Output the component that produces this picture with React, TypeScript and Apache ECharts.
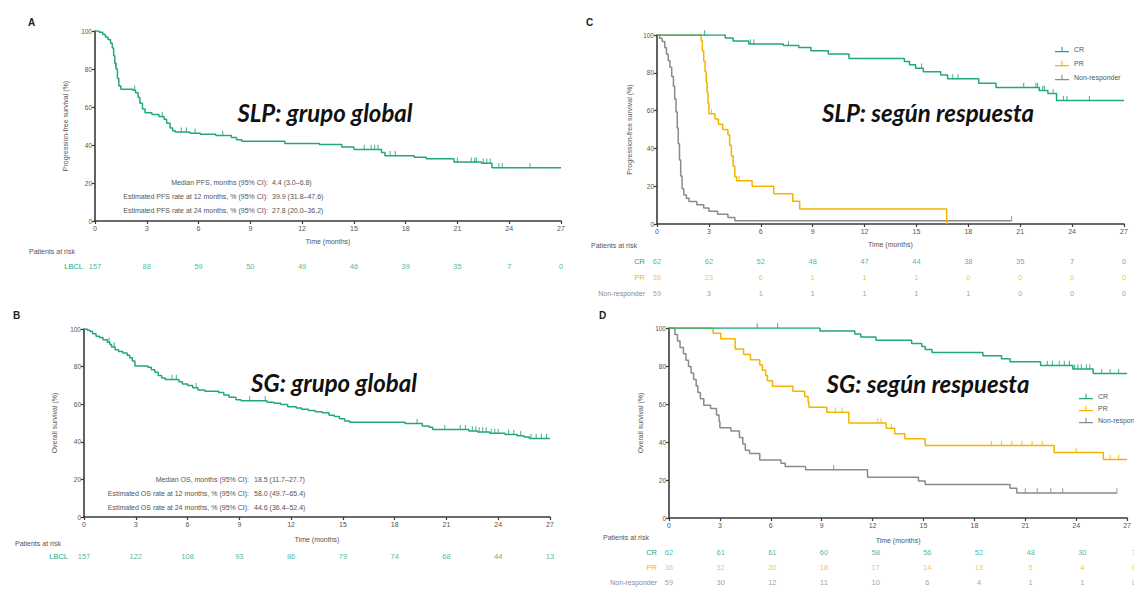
import React, { useEffect, useRef } from "react";
import * as echarts from "echarts";

const GREEN = "#22a683";
const YELLOW = "#f5b400";
const GREY = "#8a8a8a";
const AXIS = "#3a3a3a";
const TXT = "#555555";
const FONT = "'Liberation Sans', Arial, sans-serif";

const months = [0, 3, 6, 9, 12, 15, 18, 21, 24, 27];

// Patients at risk
const riskA_LBCL = [157, 88, 59, 50, 49, 46, 39, 35, 7, 0];
const riskB_LBCL = [157, 122, 108, 93, 86, 79, 74, 68, 44, 13];
const riskC_CR = [62, 62, 52, 48, 47, 44, 38, 35, 7, 0];
const riskC_PR = [36, 23, 6, 1, 1, 1, 0, 0, 0, 0];
const riskC_NR = [59, 3, 1, 1, 1, 1, 1, 0, 0, 0];
const riskD_CR = [62, 61, 61, 60, 58, 56, 52, 48, 30, 7];
const riskD_PR = [36, 32, 20, 18, 17, 14, 13, 5, 4, 0];
const riskD_NR = [59, 30, 12, 11, 10, 6, 4, 1, 1, 0];

// A: PFS global
const pfsGlobal = [
  [0, 100], [0.25, 99.4], [0.45, 98.1], [0.6, 96.8], [0.75, 95.5], [0.9, 93.6], [1.0, 91], [1.08, 87],
  [1.15, 83], [1.22, 80], [1.3, 75], [1.38, 71], [1.5, 69.4], [2.2, 68.8], [2.35, 67.5], [2.5, 65],
  [2.6, 62], [2.75, 59], [2.9, 57], [3.3, 56], [3.7, 55], [4.0, 53.5], [4.15, 51.5], [4.35, 49],
  [4.5, 47.5], [4.65, 46.8], [5.5, 46.2], [6.1, 45.6], [7.0, 45], [7.9, 44], [8.2, 42.8], [8.5, 42],
  [11.0, 40.8], [13.0, 40.2], [14.3, 39], [15.0, 37.6], [16.6, 36], [16.8, 34.4], [18.5, 33.6],
  [19.2, 32.8], [20.8, 31], [22.4, 30.4], [23.0, 28], [27, 28],
];
const pfsGlobalCensor = [
  [1.2, 81], [2.3, 68.8], [3.9, 55], [5.0, 46.8], [5.3, 46.8], [5.8, 46.2], [7.4, 45], [15.6, 37.6],
  [16.0, 37.6], [16.2, 37.6], [16.4, 37.6], [17.1, 34.4], [17.4, 34.4], [21.0, 31], [21.8, 31],
  [22.0, 31], [22.1, 31], [22.5, 30.4], [22.7, 30.4], [22.9, 30.4], [23.4, 28], [23.6, 28], [25.2, 28],
];

// B: OS global
const osGlobal = [
  [0, 100], [0.2, 99.4], [0.35, 98.7], [0.5, 97.5], [0.7, 96.2], [0.9, 95.5], [1.1, 94.3], [1.35, 93],
  [1.5, 91.7], [1.6, 90.4], [1.8, 89], [2.0, 88], [2.25, 87.3], [2.5, 86], [2.65, 84.7], [2.8, 83],
  [2.95, 80.3], [3.7, 79.6], [3.9, 78.3], [4.1, 77], [4.3, 75.2], [4.5, 74], [4.7, 73.2], [5.5, 72],
  [5.7, 70.7], [6.0, 70], [6.3, 68.8], [6.6, 67.5], [7.0, 66.9], [7.8, 66.2], [8.1, 64.9], [8.4, 63.7],
  [8.8, 62.4], [9.1, 61.8], [10.6, 61.1], [11.0, 60.5], [11.4, 59.9], [11.8, 58.6], [12.3, 58],
  [12.6, 57.3], [13.0, 56.7], [13.4, 56], [13.8, 55.4], [14.2, 54.1], [14.5, 53.5], [14.8, 52.2],
  [15.1, 51], [15.4, 50.4], [18.6, 49.7], [19.6, 48.4], [20.0, 47.7], [20.2, 46.5], [22.3, 45.8],
  [22.8, 45.2], [23.5, 44.5], [24.4, 43.9], [25.1, 43.2], [25.5, 42.5], [25.8, 41.8], [27, 41.8],
];
const osGlobalCensor = [
  [1.45, 93], [1.75, 90.4], [5.1, 73.2], [5.35, 73.2], [6.5, 68.8], [9.6, 61.8], [10.5, 61.8],
  [19.3, 49.7], [20.9, 46.5], [21.8, 46.5], [22.1, 46.5], [22.5, 45.8], [22.7, 45.8], [22.9, 45.2],
  [23.1, 45.2], [23.3, 45.2], [23.6, 44.5], [23.8, 44.5], [24.0, 44.5], [24.6, 43.9], [24.9, 43.9],
  [25.3, 43.2], [25.9, 41.8], [26.2, 41.8], [26.5, 41.8], [26.8, 41.8],
];

// C: PFS by response
const pfsCR = [
  [0, 100], [3.95, 98.4], [4.4, 96.8], [5.3, 95.2], [7.3, 94.4], [8.2, 93.4], [8.9, 91.7], [9.9, 90],
  [11.1, 87.6], [14.3, 86], [14.6, 84.2], [14.95, 82.4], [15.4, 80.6], [16.4, 78.8], [16.8, 76.8],
  [18.6, 74.5], [19.6, 72.2], [22.1, 70.6], [22.6, 69], [23.1, 65.3], [27, 65.3],
];
const pfsCRCensor = [
  [2.75, 100], [5.4, 95.2], [5.6, 95.2], [7.6, 94.4], [15.3, 82.4], [17.1, 76.8], [17.4, 76.8],
  [21.2, 72.2], [21.9, 72.2], [22.0, 72.2], [22.3, 70.6], [22.4, 70.6], [22.9, 69], [23.5, 65.3],
  [23.7, 65.3], [25.0, 65.3],
];
const pfsPR = [
  [0, 100], [2.55, 97.2], [2.62, 91.7], [2.7, 86.1], [2.78, 80.6], [2.85, 75], [2.9, 69.4], [2.95, 63.9],
  [3.0, 58.3], [3.35, 55.6], [3.55, 52.8], [3.8, 50], [4.1, 47.2], [4.2, 41.7], [4.3, 36.1], [4.4, 30.6],
  [4.5, 25], [4.6, 22.9], [5.5, 20], [6.75, 16], [7.85, 12], [8.25, 8], [16.75, 0],
];
const pfsPRCensor = [[3.15, 58.3], [4.75, 22.9]];
const pfsNR = [
  [0, 100], [0.15, 98.3], [0.3, 96.6], [0.45, 93.2], [0.55, 89.8], [0.65, 86.4], [0.75, 83], [0.85, 78],
  [0.95, 72.9], [1.02, 66.1], [1.1, 59.3], [1.17, 50.8], [1.23, 42.4], [1.3, 33.9], [1.37, 25.4],
  [1.45, 18.6], [1.55, 15.3], [1.7, 13.6], [1.85, 11.9], [2.3, 10.2], [2.7, 8.5], [3.0, 6.8], [3.5, 5.1],
  [4.1, 3.4], [4.5, 1.7], [20.5, 1.7],
];
const pfsNRCensor = [[20.5, 1.7]];

// D: OS by response
const osCR = [
  [0, 100], [8.9, 98.4], [10.95, 96.8], [11.3, 95.2], [12.2, 93.5], [14.3, 91.9], [14.9, 90.3],
  [15.1, 88.7], [15.5, 87.1], [18.5, 85.4], [19.6, 83.8], [20.1, 82.2], [21.9, 80.3], [23.8, 78.4],
  [25.0, 76], [27, 76],
];
const osCRCensor = [
  [5.2, 100], [6.4, 100], [22.3, 80.3], [22.6, 80.3], [23.0, 80.3], [23.3, 80.3], [23.6, 80.3],
  [23.9, 78.4], [24.1, 78.4], [24.3, 78.4], [24.6, 78.4], [24.8, 78.4], [25.5, 76], [26.0, 76], [26.5, 76],
];
const osPR = [
  [0, 100], [2.6, 97.2], [3.05, 94.4], [3.9, 88.9], [4.4, 86.1], [4.8, 83.3], [5.35, 80.6], [5.5, 77.8],
  [5.7, 75], [5.8, 72.2], [6.1, 69.4], [7.3, 66.7], [8.0, 63.9], [8.2, 61.1], [8.25, 58.3], [9.3, 55.6],
  [10.6, 50], [12.8, 47.2], [13.3, 44.4], [13.9, 41.7], [15.1, 38.1], [22.7, 34.5], [25.6, 30.8], [27, 30.8],
];
const osPRCensor = [
  [9.8, 55.6], [10.2, 55.6], [12.3, 50], [12.5, 50], [13.1, 47.2], [19.0, 38.1], [19.6, 38.1],
  [20.2, 38.1], [20.8, 38.1], [21.4, 38.1], [22.0, 38.1], [24.0, 34.5], [26.0, 30.8], [26.5, 30.8],
];
const osNR = [
  [0, 100], [0.35, 96.6], [0.5, 93.2], [0.65, 89.8], [0.85, 86.4], [1.0, 83], [1.15, 79.7], [1.3, 76.3],
  [1.45, 72.9], [1.6, 69.5], [1.7, 66.1], [1.85, 62.7], [2.05, 59.3], [2.45, 57.6], [2.8, 54.2],
  [2.95, 50.8], [3.0, 47.5], [3.65, 45.8], [4.15, 42.4], [4.35, 39], [4.5, 35.6], [4.75, 33.9],
  [5.35, 30.5], [6.6, 28.8], [6.85, 27.1], [8.05, 25.4], [11.7, 21.4], [14.7, 19.5], [15.1, 17.6],
  [20.1, 15.6], [20.5, 13.2], [26.4, 13.2],
];
const osNRCensor = [[9.7, 25.4], [21.0, 13.2], [21.7, 13.2], [22.5, 13.2], [23.2, 13.2], [26.4, 13.2]];

const grids = [
  { left: 95, top: 31, width: 466, height: 190 }, // A
  { left: 84, top: 329, width: 466, height: 188 }, // B
  { left: 657, top: 35, width: 467, height: 189 }, // C
  { left: 669, top: 328, width: 472, height: 190 }, // D
  { left: 95, top: 259, width: 466, height: 14 }, // A risk
  { left: 84, top: 549, width: 466, height: 14 }, // B risk
  { left: 657, top: 253, width: 467, height: 48 }, // C risk
  { left: 669, top: 545, width: 472, height: 47 }, // D risk
];

const yNames = ["Progression-free survival (%)", "Overall survival (%)", "Progression-free survival (%)", "Overall survival (%)"];
const yGaps = [26, 26, 24, 25];
const xGaps = [17, 19, 17, 19];

function mainX(i: number) {
  return {
    type: "value", gridIndex: i, min: 0, max: 27, interval: 3,
    axisLine: { show: true, lineStyle: { color: AXIS, width: 1.6 } },
    axisTick: { show: true, length: 3, lineStyle: { color: AXIS, width: 1.2 } },
    axisLabel: { fontSize: 7, color: TXT, margin: 4, fontFamily: FONT },
    splitLine: { show: false },
    name: "Time (months)", nameLocation: "middle", nameGap: xGaps[i],
    nameTextStyle: { fontSize: 7, color: TXT, fontFamily: FONT },
  };
}
function mainY(i: number) {
  return {
    type: "value", gridIndex: i, min: 0, max: 100, interval: 20,
    axisLine: { show: true, lineStyle: { color: AXIS, width: 1.6 } },
    axisTick: { show: true, length: 3, lineStyle: { color: AXIS, width: 1.2 } },
    axisLabel: { fontSize: 6.5, color: TXT, margin: 3, fontFamily: FONT },
    splitLine: { show: false },
    name: yNames[i], nameLocation: "middle", nameGap: yGaps[i],
    nameTextStyle: { fontSize: 7, color: TXT, fontFamily: FONT },
  };
}
function riskX(i: number) {
  return { type: "value", gridIndex: i, min: 0, max: 27, show: false };
}
function riskY(i: number, rows: string[], margin: number) {
  return {
    type: "category", gridIndex: i, data: rows, inverse: true,
    axisLine: { show: false }, axisTick: { show: false }, splitLine: { show: false },
    axisLabel: {
      margin, fontSize: 7.5, fontFamily: FONT,
      formatter: (v: string) => `{${v === "CR" ? "g" : v === "PR" ? "y" : v === "LBCL" ? "g" : "k"}|${v}}`,
      rich: { g: { color: GREEN, fontSize: 7.5 }, y: { color: YELLOW, fontSize: 7.5 }, k: { color: GREY, fontSize: 7 } },
    },
  };
}

function km(name: string, data: number[][], color: string, axis: number) {
  return {
    type: "line", name, data, step: "end", xAxisIndex: axis, yAxisIndex: axis,
    symbol: "none", showSymbol: false, lineStyle: { color, width: 1.5 }, itemStyle: { color }, z: 3,
  };
}
function censor(data: number[][], color: string, axis: number) {
  return {
    type: "scatter", name: "", data, xAxisIndex: axis, yAxisIndex: axis,
    symbol: "rect", symbolSize: [1.1, 5], symbolOffset: [0, -2.2], itemStyle: { color }, z: 4, silent: true,
  };
}
function risk(row: string, vals: number[], color: string, axis: number) {
  return {
    type: "scatter", name: "", xAxisIndex: axis, yAxisIndex: axis,
    data: months.map((m, k) => [m, row, vals[k]]),
    symbol: "circle", symbolSize: 1, itemStyle: { color: "rgba(0,0,0,0)" }, silent: true,
    label: { show: true, position: "inside", formatter: (p: any) => String(p.value[2]), color, fontSize: 7.5, fontFamily: FONT },
  };
}

function txt(text: string, x: number, y: number, opts: any = {}) {
  return {
    type: "text", x, y, silent: true,
    style: {
      text, fill: opts.fill || TXT, fontSize: opts.fontSize || 7, fontFamily: opts.fontFamily || FONT,
      fontWeight: opts.fontWeight || "normal", fontStyle: opts.fontStyle || "normal",
      textAlign: opts.align || "left", align: opts.align || "left",
      textVerticalAlign: "middle", verticalAlign: "middle",
    },
  };
}

const LEGEND_ICON = "path://M0,9h26v2h-26z M12,1h2v9h-2z";

export default function App() {
  const ref = useRef<HTMLDivElement>(null);
  useEffect(() => {
    if (!ref.current) return;
    const chart = echarts.init(ref.current, null, { renderer: "svg" });
    const titleFont = { fontSize: 24, fontFamily: "Lato, 'Open Sans', sans-serif", fontWeight: "bold", fontStyle: "italic", fill: "#111", align: "center" };
    const option: any = {
      animation: false,
      backgroundColor: "#ffffff",
      grid: grids.map((g) => ({ ...g, containLabel: false })),
      xAxis: [mainX(0), mainX(1), mainX(2), mainX(3), riskX(4), riskX(5), riskX(6), riskX(7)],
      yAxis: [
        mainY(0), mainY(1), mainY(2), mainY(3),
        riskY(4, ["LBCL"], 12), riskY(5, ["LBCL"], 16),
        riskY(6, ["CR", "PR", "Non-responder"], 12), riskY(7, ["CR", "PR", "Non-responder"], 12),
      ],
      legend: [
        {
          data: ["CR", "PR", "Non-responder"], orient: "vertical", left: 1050, top: 41,
          itemWidth: 14, itemHeight: 6, itemGap: 7, icon: LEGEND_ICON,
          textStyle: { fontSize: 7, color: TXT, fontFamily: FONT },
        },
        {
          data: ["CR", "PR", "Non-responder"], orient: "vertical", left: 1074, top: 388,
          itemWidth: 14, itemHeight: 6, itemGap: 5, icon: LEGEND_ICON,
          textStyle: { fontSize: 7, color: TXT, fontFamily: FONT },
        },
      ],
      series: [
        km("LBCL", pfsGlobal, GREEN, 0),
        censor(pfsGlobalCensor, GREEN, 0),
        km("LBCL", osGlobal, GREEN, 1),
        censor(osGlobalCensor, GREEN, 1),
        km("Non-responder", pfsNR, GREY, 2),
        censor(pfsNRCensor, GREY, 2),
        km("PR", pfsPR, YELLOW, 2),
        censor(pfsPRCensor, YELLOW, 2),
        km("CR", pfsCR, GREEN, 2),
        censor(pfsCRCensor, GREEN, 2),
        km("Non-responder", osNR, GREY, 3),
        censor(osNRCensor, GREY, 3),
        km("PR", osPR, YELLOW, 3),
        censor(osPRCensor, YELLOW, 3),
        km("CR", osCR, GREEN, 3),
        censor(osCRCensor, GREEN, 3),
        risk("LBCL", riskA_LBCL, GREEN, 4),
        risk("LBCL", riskB_LBCL, GREEN, 5),
        risk("CR", riskC_CR, GREEN, 6),
        risk("PR", riskC_PR, YELLOW, 6),
        risk("Non-responder", riskC_NR, GREY, 6),
        risk("CR", riskD_CR, GREEN, 7),
        risk("PR", riskD_PR, YELLOW, 7),
        risk("Non-responder", riskD_NR, GREY, 7),
      ],
      graphic: [
        txt("A", 28, 22, { fontSize: 10, fontWeight: "bold", fill: "#222", fontFamily: FONT }),
        txt("B", 13, 315, { fontSize: 10, fontWeight: "bold", fill: "#222", fontFamily: FONT }),
        txt("C", 586, 22, { fontSize: 10, fontWeight: "bold", fill: "#222", fontFamily: FONT }),
        txt("D", 599, 315, { fontSize: 10, fontWeight: "bold", fill: "#222", fontFamily: FONT }),
        txt("SLP: grupo global", 325, 112, titleFont),
        txt("SLP: según respuesta", 928, 112, titleFont),
        txt("SG: grupo global", 334, 382, titleFont),
        txt("SG: según respuesta", 928, 383, titleFont),
        txt("Patients at risk", 29, 251),
        txt("Patients at risk", 591, 245),
        txt("Patients at risk", 15, 543),
        txt("Patients at risk", 603, 537),
        txt("Median PFS, months (95% CI):", 268, 182, { align: "right" }),
        txt("4.4 (3.0–6.8)", 272, 182),
        txt("Estimated PFS rate at 12 months, % (95% CI):", 268, 196, { align: "right" }),
        txt("39.9 (31.8–47.6)", 272, 196),
        txt("Estimated PFS rate at 24 months, % (95% CI):", 268, 210, { align: "right" }),
        txt("27.8 (20.0–36.2)", 272, 210),
        txt("Median OS, months (95% CI):", 249, 479, { align: "right" }),
        txt("18.5 (11.7–27.7)", 254, 479),
        txt("Estimated OS rate at 12 months, % (95% CI):", 249, 493, { align: "right" }),
        txt("58.0 (49.7–65.4)", 254, 493),
        txt("Estimated OS rate at 24 months, % (95% CI):", 249, 507, { align: "right" }),
        txt("44.6 (36.4–52.4)", 254, 507),
      ],
    };
    chart.setOption(option);
    return () => chart.dispose();
  }, []);
  return (
    <div
      ref={ref}
      style={{ position: "absolute", left: 0, top: 0, width: 1134, height: 590, background: "#fff" }}
    />
  );
}
